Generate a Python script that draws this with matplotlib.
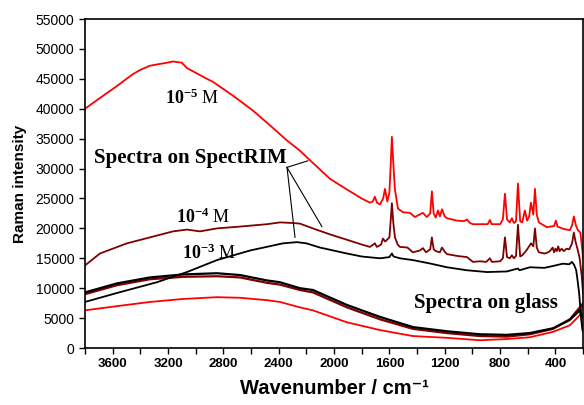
import numpy as np
import matplotlib
matplotlib.use("Agg")
import matplotlib.pyplot as plt
from matplotlib.ticker import MultipleLocator

plt.rcParams["mathtext.fontset"] = "custom"
plt.rcParams["mathtext.rm"] = "Liberation Serif"
plt.rcParams["mathtext.bf"] = "Liberation Serif:bold"

# ─── data ────────────────────────────────────────────────────────────────────
# SpectRIM, 10^-5 M (red)
w_rim5 = [3800, 3692, 3569, 3453, 3400, 3330, 3207, 3164, 3100, 3063, 2918, 2875,
          2731, 2586, 2442, 2340, 2247, 2174, 2030, 1907, 1800, 1741, 1720, 1705,
          1690, 1668, 1645, 1632, 1615, 1600, 1590, 1582, 1572, 1560, 1538, 1502,
          1452, 1416, 1358, 1330, 1305, 1293, 1280, 1265, 1249, 1235, 1220, 1200,
          1184, 1112, 1060, 1040, 1018, 996, 946, 890, 874, 860, 800, 780, 765,
          750, 730, 715, 700, 685, 671, 655, 640, 621, 605, 590, 577, 560, 548,
          535, 520, 462, 410, 397, 385, 340, 296, 280, 267, 252, 238, 220, 209,
          200]
i_rim5 = [40000, 41800, 43800, 45800, 46500, 47200, 47700, 47900, 47700, 46800,
          45000, 44500, 42200, 39700, 36800, 34700, 33000, 31400, 28300, 26500,
          25000, 24300, 24500, 25300, 24300, 24000, 25000, 26600, 24500, 26000,
          31000, 35300, 31000, 26500, 23300, 22700, 22600, 21900, 22600, 21900,
          22500, 26200, 22500, 21800, 23000, 22000, 23200, 22000, 21700, 21300,
          21200, 21500, 20900, 20700, 20700, 20700, 21400, 20700, 20700, 21500,
          25800, 21500, 21000, 21700, 20900, 21200, 27500, 21200, 21000, 23000,
          21300, 22000, 24300, 22300, 26600, 22300, 21000, 20200, 20400, 21300,
          20300, 19900, 19700, 20500, 22000, 20500, 19700, 19300, 17000, 15000]

# SpectRIM, 10^-4 M (dark red)
w_rim4 = [3800, 3692, 3497, 3330, 3164, 3063, 2969, 2846, 2680, 2485, 2391, 2297,
          2247, 2153, 2030, 1907, 1800, 1741, 1705, 1690, 1660, 1647, 1630, 1600,
          1590, 1582, 1572, 1560, 1540, 1524, 1470, 1430, 1380, 1358, 1335, 1305,
          1293, 1280, 1265, 1235, 1220, 1200, 1184, 1112, 1040, 996, 946, 900,
          874, 859, 800, 780, 765, 750, 730, 715, 700, 685, 671, 655, 640, 621,
          605, 590, 577, 560, 548, 535, 520, 480, 462, 440, 420, 410, 400, 390,
          380, 370, 355, 340, 320, 300, 280, 267, 255, 240, 225, 210, 200]
i_rim4 = [13800, 15800, 17500, 18500, 19500, 19800, 19500, 20000, 20300, 20700,
          21000, 20900, 20800, 20000, 19000, 18100, 17300, 16900, 17500, 16900,
          17300, 18300, 17800, 18500, 21500, 24200, 21000, 18500, 17300, 16900,
          16800, 16000, 16300, 16700, 16000, 16500, 18500, 16500, 16200, 16000,
          16800, 16100, 15700, 15400, 15200, 14400, 14500, 14400, 15000, 14400,
          14500, 15000, 18500, 15200, 15000, 15500, 15000, 15400, 20600, 15300,
          15500, 16000, 16500, 17000, 17500, 17000, 20000, 16800, 16000, 15800,
          15900, 16200, 16800, 16000, 16600, 16200, 17000, 16200, 16600, 16200,
          16600, 16500, 17500, 19300, 17800, 16500, 15000, 12000, 9000]

# SpectRIM, 10^-3 M (black)
w_rim3 = [3800, 3569, 3280, 3063, 2846, 2608, 2369, 2268, 2200, 2102, 1907, 1800,
          1668, 1600, 1582, 1570, 1524, 1430, 1300, 1184, 1040, 895, 751, 671,
          660, 585, 480, 420, 346, 300, 281, 265, 250, 240, 228, 215, 205, 200]
i_rim3 = [7700, 9200, 11000, 12700, 14700, 16300, 17500, 17700, 17500, 16800,
          15800, 15300, 15000, 15200, 15800, 15300, 15000, 14700, 14100, 13500,
          13000, 12700, 12800, 13300, 13000, 13500, 13400, 13700, 14100, 14000,
          14400, 13900, 13000, 11300, 9000, 5000, 3000, 2700]

# glass spectra
w_glass = [3800, 3569, 3330, 3092, 2846, 2680, 2485, 2391, 2247, 2153, 1907,
           1668, 1430, 1184, 946, 751, 585, 418, 296, 224, 200]
i_glass_black = [9300, 10800, 11800, 12300, 12500, 12200, 11300, 11000, 10000,
                 9700, 7200, 5200, 3500, 2800, 2300, 2200, 2500, 3300, 4700,
                 6300, 5000]
i_glass_dred = [9000, 10500, 11500, 11900, 12000, 11800, 10900, 10600, 9700,
                9300, 6800, 4800, 3200, 2500, 2000, 1900, 2300, 3200, 4800,
                6800, 7500]
i_glass_red = [6300, 7000, 7700, 8200, 8500, 8400, 8000, 7700, 6800, 6300,
               4300, 3000, 2000, 1700, 1300, 1500, 1800, 2700, 3800, 5500,
               7500]

RED = "#ff0000"
DRED = "#800000"
SERIF = "Liberation Serif"
SANS = "Liberation Sans"

# ─── plot ─────────────────────────────────────────────────────────────────────
fig = plt.figure(figsize=(5.84, 4.05), dpi=100)
ax = fig.add_axes([0.1455, 0.1407, 0.853, 0.8123])

ax.plot(w_glass, i_glass_red, color=RED, lw=1.3)
ax.plot(w_glass, i_glass_dred, color=DRED, lw=1.6)
ax.plot(w_glass, i_glass_black, color="black", lw=1.6)
ax.plot(w_rim3, i_rim3, color="black", lw=1.3)
ax.plot(w_rim4, i_rim4, color=DRED, lw=1.3)
ax.plot(w_rim5, i_rim5, color=RED, lw=1.3)

ax.set_xlim(3800, 200)
ax.set_ylim(0, 55000)
ax.xaxis.set_major_locator(MultipleLocator(400))
ax.xaxis.set_minor_locator(MultipleLocator(200))
ax.yaxis.set_major_locator(MultipleLocator(5000))
ax.set_xticks([3600, 3200, 2800, 2400, 2000, 1600, 1200, 800, 400])
ax.tick_params(axis="both", which="both", direction="out", length=4, width=1)
for lab in ax.get_xticklabels():
    lab.set_fontfamily(SANS)
    lab.set_fontweight("bold")
    lab.set_fontsize(9.5)
for lab in ax.get_yticklabels():
    lab.set_fontfamily(SANS)
    lab.set_fontsize(10)
for sp in ax.spines.values():
    sp.set_linewidth(1.2)

ax.set_xlabel("Wavenumber / cm\u207b\u00b9", family=[SANS, "DejaVu Sans"],
              fontweight="bold", fontsize=14.5, labelpad=6)
ax.set_ylabel("Raman intensity", family=SANS, fontweight="bold",
              fontsize=11, labelpad=6)

# labels
conc_labels = [(3027, 41800, r"$\mathbf{10^{-5}}$ M"),
               (2947, 21800, r"$\mathbf{10^{-4}}$ M"),
               (2904, 15800, r"$\mathbf{10^{-3}}$ M")]
for x, y, s in conc_labels:
    ax.text(x, y, s, family=SERIF, fontsize=13, ha="center", va="center")
ax.text(3041, 31800, "Spectra on SpectRIM", family=SERIF, fontweight="bold",
        fontsize=15, ha="center", va="center")
ax.text(903, 7600, "Spectra on glass", family=SERIF, fontweight="bold",
        fontsize=15, ha="center", va="center")

# pointer lines
origin = (2340, 30200)
for end in [(2189, 31300), (2282, 18500), (2088, 20300)]:
    ax.plot([origin[0], end[0]], [origin[1], end[1]], color="black", lw=0.8)

fig.savefig("out.png", dpi=100)
